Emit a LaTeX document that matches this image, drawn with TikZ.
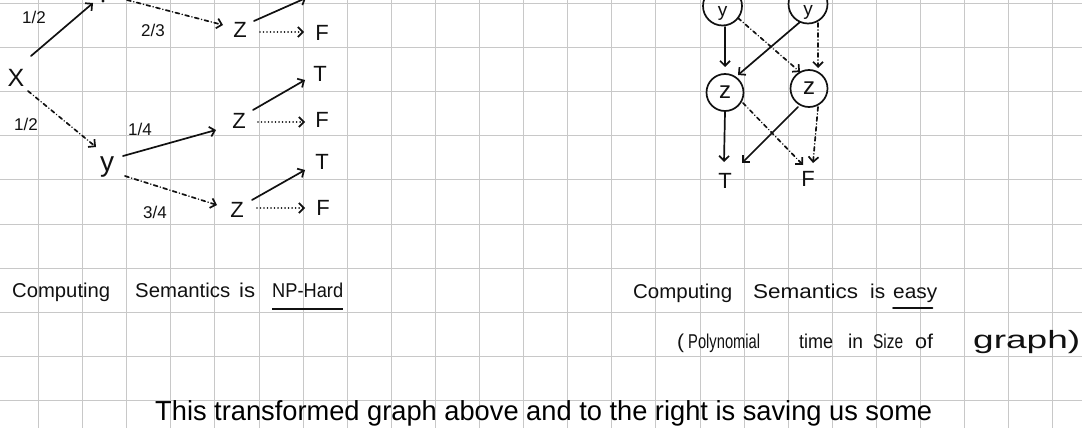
\documentclass[tikz,border=0pt]{standalone}
\usepackage{fontspec}
\setmainfont{Liberation Sans}
\usepackage{graphicx}
\usetikzlibrary{arrows.meta}
\definecolor{gridc}{RGB}{200,200,200}
\definecolor{ink}{RGB}{17,17,17}
\newcommand\fitw[2]{\resizebox{#1pt}{\height}{#2}}
\begin{document}
\begin{tikzpicture}[x=1pt,y=-1pt,
  gridline/.style={draw=gridc,line width=1.3pt},
  hwline/.style={draw=ink,line width=1.7pt,line cap=round,line join=round},
  arr/.style={hwline,-{Straight Barb[length=5pt,width=10pt]}},
  dd/.style={dash pattern=on 4pt off 3pt on 0.01pt off 3pt},
  dots/.style={dash pattern=on 0.01pt off 3.5pt},
  hw/.style={font=\fontsize{20}{24}\selectfont,inner sep=0pt,anchor=base west,text=ink},
  glyph/.style={font=\fontsize{22}{26}\selectfont,inner sep=0pt,text=ink},
  lbl/.style={font=\fontsize{17}{20}\selectfont,inner sep=0pt,text=ink},
  circ/.style={circle,draw=ink,line width=1.7pt,minimum size=37pt,inner sep=0pt,text=ink,font=\fontsize{24}{26}\selectfont},
  bottomtext/.style={font=\fontsize{27.5}{32}\selectfont,inner sep=0pt,anchor=base west,text=black}
]
\path[use as bounding box] (0,0) rectangle (1082,428);
\clip (0,0) rectangle (1082,428);
\fill[white] (0,0) rectangle (1082,428);
% grid (pixel aligned)
\foreach \i in {0,...,23} {
  \pgfmathsetmacro\gx{floor(38.5+44.1*\i)+0.5}
  \draw[gridline] (\gx,0) -- (\gx,428);
}
\foreach \j in {0,...,9} {
  \pgfmathsetmacro\gy{floor(3.5+44.1*\j)+0.5}
  \draw[gridline] (0,\gy) -- (1082,\gy);
}

% ---------- left tree ----------
\node[glyph,font=\fontsize{25}{28}\selectfont] (X) at (16,78) {X};
\coordinate (yT) at (104,-12);
\fill[ink] ([shift={(-1,13)}]yT) circle (1.6pt);
\node[glyph] (z1) at (240,30) {Z};
\node[glyph] (F1) at (322,33) {F};
\coordinate (T1) at (306,-2);
\node[glyph,font=\fontsize{28}{30}\selectfont] (y2) at (107,167) {y};
\node[glyph] (z2) at (239,121) {Z};
\node[glyph] (T2) at (320,74) {T};
\node[glyph] (F2) at (322,120) {F};
\node[glyph] (z3) at (237,210) {Z};
\node[glyph] (T3) at (322,162) {T};
\node[glyph] (F3) at (323,208) {F};

\node[lbl] (l12a) at (34,17) {1/2};
\node[lbl] (l23) at (153,30) {2/3};
\node[lbl] (l12b) at (26,124) {1/2};
\node[lbl] (l14) at (140,129) {1/4};
\node[lbl] (l34) at (155,212) {3/4};

\draw[arr] ([shift={(15,-22)}]X.center) -- ([shift={(-11,15)}]yT);
\draw[arr,dd] ([shift={(23,12)}]yT) -- ([shift={(-17,-5)}]z1.center);
\draw[arr] ([shift={(14,-9)}]z1.center) -- (T1);
\draw[arr,dots] ([shift={(20,2)}]z1.center) -- ([shift={(-18,-1)}]F1.center);
\draw[arr,dd] ([shift={(12,13)}]X.center) -- ([shift={(-11,-20)}]y2.center);
\draw[arr] ([shift={(16,-11)}]y2.center) -- ([shift={(-23,9)}]z2.center);
\draw[arr,dd] ([shift={(18,9)}]y2.center) -- ([shift={(-20,-5)}]z3.center);
\draw[arr] ([shift={(14,-11)}]z2.center) -- ([shift={(-15,6)}]T2.center);
\draw[arr,dots] ([shift={(19,1)}]z2.center) -- ([shift={(-17,2)}]F2.center);
\draw[arr] ([shift={(15,-10)}]z3.center) -- ([shift={(-17,8)}]T3.center);
\draw[arr,dots] ([shift={(20,-2)}]z3.center) -- ([shift={(-18,0)}]F3.center);

% ---------- right graph ----------
\node[circ,minimum size=39pt] (ry1) at (722.5,6) {};
\node[circ,minimum size=39pt] (ry2) at (808,4) {};
\node[inner sep=0pt,text=ink,font=\fontsize{19}{21}\selectfont] (ry1t) at ([shift={(0,7)}]ry1.center) {y};
\node[inner sep=0pt,text=ink,font=\fontsize{19}{21}\selectfont] (ry2t) at ([shift={(0,8)}]ry2.center) {y};
\node[circ] (rz1) at (725,92.5) {z};
\node[circ] (rz2) at (809,88.5) {z};
\node[glyph] (rT) at (725,181) {T};
\node[glyph] (rF) at (808,179) {F};

\draw[arr] ([shift={(2.5,21)}]ry1.center) -- ([shift={(0,-25.5)}]rz1.center);
\draw[arr,dd] ([shift={(15.5,12)}]ry1.center) -- ([shift={(-9,-16.5)}]rz2.center);
\draw[arr] ([shift={(-8,18)}]ry2.center) -- ([shift={(13,-17.5)}]rz1.center);
\draw[arr,dd] ([shift={(10,19)}]ry2.center) -- ([shift={(9,-20.5)}]rz2.center);
\draw[arr] ([shift={(0,19.5)}]rz1.center) -- ([shift={(-1,-19)}]rT.center);
\draw[arr,dd] ([shift={(18,10.5)}]rz1.center) -- ([shift={(-5,-14)}]rF.center);
\draw[arr] ([shift={(-11,18.5)}]rz2.center) -- ([shift={(17,-18)}]rT.center);
\draw[arr,dd] ([shift={(9,18.5)}]rz2.center) -- ([shift={(5,-16)}]rF.center);

% ---------- captions ----------
\node[hw] (lc1) at (12,297) {\fitw{98}{Computing}};
\node[hw] (lc2) at (135,297) {\fitw{95}{Semantics}};
\node[hw] (lc3) at (239,297) {\fitw{16}{is}};
\node[hw] (lc4) at (272,297) {\fitw{71}{NP-Hard}};
\draw[draw=ink,line width=2.5pt] (lc4.west |- 0,309) -- (lc4.east |- 0,309);

\node[hw] (rc1) at (633,298) {\fitw{99}{Computing}};
\node[hw] (rc2) at (753,298) {\fitw{105}{Semantics}};
\node[hw] (rc3) at (870,298) {\fitw{15}{is}};
\node[hw] (rc4) at (893,298) {\fitw{44}{easy}};
\draw[hwline] (rc4.west |- 0,308) -- ([xshift=-5pt]rc4.east |- 0,308);

\node[hw] (rp1) at (677,348) {\fitw{7}{(}};
\node[hw] (rp2) at (688,348) {\fitw{72}{Polynomial}};
\node[hw] (rp3) at (799,348) {\fitw{34}{time}};
\node[hw] (rp4) at (848,348) {\fitw{15}{in}};
\node[hw] (rp5) at (873,348) {\fitw{30}{Size}};
\node[hw] (rp6) at (915,348) {\fitw{18}{of}};
\node[hw,font=\fontsize{25}{28}\selectfont] (rp7) at (973,348) {\fitw{107}{graph)}};

\node[bottomtext] (bt) at (155,420.7) {\fitw{777}{This transformed graph above and to the right is saving us some}};
\end{tikzpicture}
\end{document}
